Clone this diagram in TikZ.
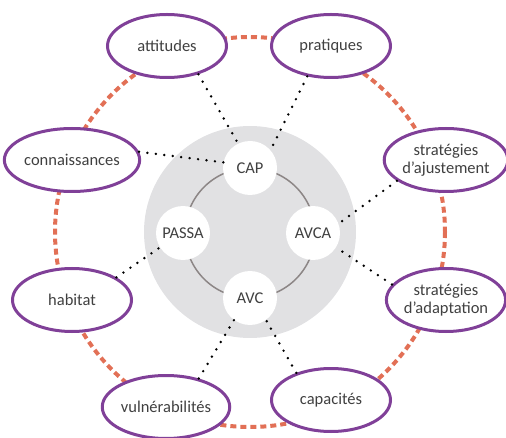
\documentclass[tikz,border=0pt]{standalone}
\usepackage{fontspec}
\setmainfont{Carlito}
\usetikzlibrary{shapes.geometric}
\definecolor{ringpurple}{RGB}{128,64,152}
\definecolor{dashorange}{RGB}{226,112,86}
\definecolor{discgray}{RGB}{225,225,227}
\definecolor{linegray}{RGB}{140,134,134}
\definecolor{txtgray}{RGB}{64,64,64}
\begin{document}
\begin{tikzpicture}[x=1pt,y=-1pt,
  every node/.style={font=\fontsize{16.5}{17.5}\selectfont,text=txtgray,align=center},
  concept/.style={ellipse,draw=ringpurple,line width=3pt,fill=white,inner sep=0pt,minimum width=119pt,minimum height=63pt},
  tool/.style={circle,fill=white,inner sep=0pt,minimum size=54pt},
  link/.style={line width=2.7pt,line cap=round,dash pattern=on 0pt off 8.5pt}]
\useasboundingbox (0,0) rectangle (506,438);
% background
\fill [discgray] (250,232) circle (106);
\draw [dashorange,line width=4pt,dash pattern=on 6pt off 4pt] (250,232) circle (195);
\draw [linegray,line width=1.5pt] (250,233) circle (65);
% outer concepts
\node [concept] (att) at (167,46) {attitudes};
\node [concept] (pra) at (331,46) {pratiques};
\node [concept] (con) at (72,160) {connaissances};
\node [concept] (aju) at (446,160) {stratégies\\d’ajustement};
\node [concept] (hab) at (72,300) {habitat};
\node [concept] (ada) at (446,300) {stratégies\\d’adaptation};
\node [concept] (vul) at (166,407) {vulnérabilités};
\node [concept] (cpc) at (331,400) {capacités};
% inner tools
\node [tool] (cap) at (250,168) {CAP};
\node [tool] (avca) at (313,233) {AVCA};
\node [tool] (avc) at (250,298) {AVC};
\node [tool] (passa) at (183,233) {PASSA};
% dotted links
\draw [link] (att.-42) -- (cap.116);
\draw [link] (con.7) -- (cap.168);
\draw [link] (pra.-128) -- (cap.41);
\draw [link] (aju.203) -- (avca.20);
\draw [link] (ada.164) -- (avca.-32);
\draw [link] (hab.27) -- (passa.212);
\draw [link] (vul.41) -- (avc.234);
\draw [link] (cpc.142) -- (avc.-54);
\end{tikzpicture}
\end{document}
